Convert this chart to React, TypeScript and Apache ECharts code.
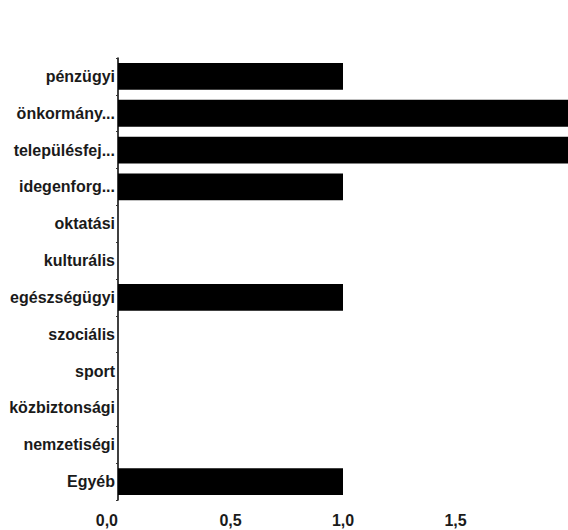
import React, { useEffect, useRef } from "react";
import * as echarts from "echarts";

const categories = [
  "pénzügyi",
  "önkormány...",
  "településfej...",
  "idegenforg...",
  "oktatási",
  "kulturális",
  "egészségügyi",
  "szociális",
  "sport",
  "közbiztonsági",
  "nemzetiségi",
  "Egyéb",
];
const values = [1, 2, 2, 1, 0, 0, 1, 0, 0, 0, 0, 1];
const xTicks = { min: 0, max: 2, interval: 0.5 };

export default function App() {
  const ref = useRef<HTMLDivElement>(null);
  useEffect(() => {
    if (!ref.current) return;
    const chart = echarts.init(ref.current, null, { renderer: "svg" });
    chart.setOption({
      animation: false,
      backgroundColor: "#ffffff",
      grid: { left: 118, top: 58, bottom: 30, right: -4, containLabel: false },
      xAxis: {
        type: "value",
        min: xTicks.min,
        max: xTicks.max,
        interval: xTicks.interval,
        axisLine: { show: false },
        axisTick: { show: false },
        splitLine: { show: false },
        axisLabel: {
          margin: 12,
          fontFamily: "Liberation Sans",
          fontWeight: "bold",
          fontSize: 16,
          color: "#1a1a1a",
          showMaxLabel: false,
          alignMinLabel: "right",
          formatter: (v: number) => v.toFixed(1).replace(".", ","),
        },
      },
      yAxis: {
        type: "category",
        data: categories,
        inverse: true,
        axisLine: { show: true, lineStyle: { color: "#000", width: 1.5 } },
        axisTick: { show: true, length: 2, lineStyle: { color: "#333" } },
        axisLabel: {
          margin: 3,
          fontFamily: "Liberation Sans",
          fontWeight: "bold",
          fontSize: 16,
          color: "#1a1a1a",
        },
      },
      series: [
        {
          type: "bar",
          data: values,
          barCategoryGap: "27%",
          itemStyle: { color: "#000" },
        },
      ],
    });
    return () => chart.dispose();
  }, []);
  return (
    <div
      ref={ref}
      style={{ position: "absolute", left: 0, top: 0, width: 568, height: 530 }}
    />
  );
}
